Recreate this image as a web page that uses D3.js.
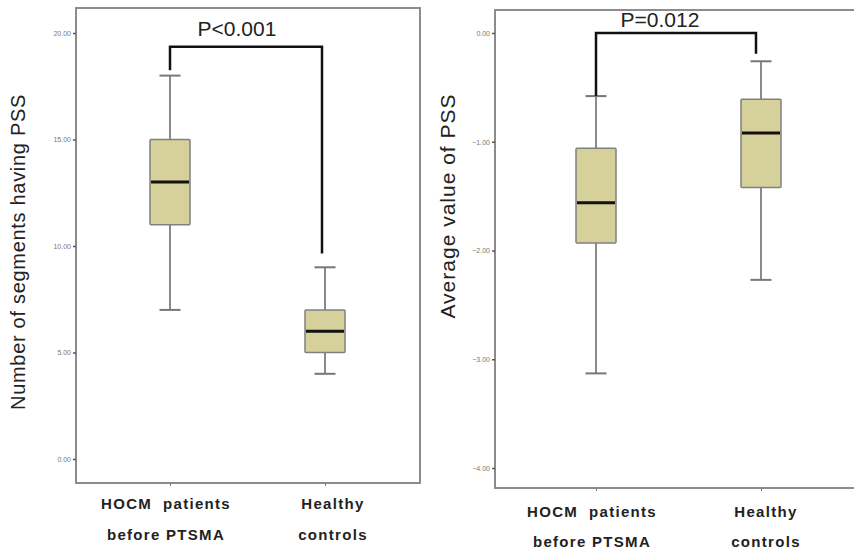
<!DOCTYPE html>
<html>
<head>
<meta charset="utf-8">
<script src="https://cdn.jsdelivr.net/npm/d3@7/dist/d3.min.js"></script>
<style>
  body { margin: 0; background: #fff; }
  svg { display: block; font-family: Arial, "Liberation Sans", sans-serif; }
</style>
</head>
<body>
<svg id="chart" width="854" height="552"></svg>
<script>
// Categories (two lines each)
const groupLabels = [["HOCM  patients", "before PTSMA"], ["Healthy", "controls"]];

// Box stats: [lower whisker, Q1, median, Q3, upper whisker]
const segmentStats = [[7, 11, 13, 15, 18], [4, 5, 6, 7, 9]];
const pssStats = [[-3.13, -1.93, -1.56, -1.06, -0.58], [-2.27, -1.42, -0.92, -0.61, -0.26]];

// Axis ticks
const segmentTicks = [0, 5, 10, 15, 20];
const pssTicks = [0, -1, -2, -3, -4];

// Significance brackets: top level, then bottom of left and right legs
const segmentBracket = { text: "P<0.001", top: 19.35, ends: [18.25, 9.65] };
const pssBracket = { text: "P=0.012", top: 0, ends: [-0.58, -0.19] };

const svg = d3.select("#chart");
const boxFill = "#d6d19b";

function drawPanel(cfg) {
  const g = svg.append("g");
  const y = d3.scaleLinear().domain(cfg.domain).range(cfg.yRange);
  const x = d3.scalePoint().domain([0, 1]).range(cfg.xRange);

  // frame
  g.append("rect")
    .attr("x", cfg.frame[0]).attr("y", cfg.frame[1])
    .attr("width", cfg.frame[2] - cfg.frame[0])
    .attr("height", cfg.frame[3] - cfg.frame[1])
    .attr("fill", "none").attr("stroke", "#8c8c8c").attr("stroke-width", 2);

  // y axis ticks
  const yAxis = d3.axisLeft(y).tickValues(cfg.ticks).tickFormat(d3.format(".2f"))
    .tickSize(3).tickPadding(2);
  const ya = g.append("g").attr("transform", `translate(${cfg.frame[0]},0)`).call(yAxis);
  ya.select(".domain").remove();
  ya.selectAll("line").attr("stroke", "#555").attr("stroke-width", 1.5);
  ya.selectAll("text").attr("font-size", 7).attr("fill", "#777")
    .attr("font-family", "Arial, sans-serif");

  // x category ticks
  const xAxis = d3.axisBottom(x).tickSize(3).tickFormat("");
  const xa = g.append("g").attr("transform", `translate(0,${cfg.frame[3]})`).call(xAxis);
  xa.select(".domain").remove();
  xa.selectAll("line").attr("stroke", "#777");

  // boxes
  const boxW = 40, capW = 21;
  cfg.stats.forEach((s, i) => {
    const cx = x(i);
    const b = g.append("g");
    b.append("line").attr("x1", cx).attr("x2", cx).attr("y1", y(s[4])).attr("y2", y(s[3]))
      .attr("stroke", "#8a8a8a").attr("stroke-width", 2);
    b.append("line").attr("x1", cx).attr("x2", cx).attr("y1", y(s[1])).attr("y2", y(s[0]))
      .attr("stroke", "#8a8a8a").attr("stroke-width", 2);
    [s[0], s[4]].forEach(v => {
      b.append("line").attr("x1", cx - capW / 2).attr("x2", cx + capW / 2)
        .attr("y1", y(v)).attr("y2", y(v))
        .attr("stroke", "#777").attr("stroke-width", 2);
    });
    b.append("rect").attr("x", cx - boxW / 2).attr("y", y(s[3]))
      .attr("width", boxW).attr("height", y(s[1]) - y(s[3]))
      .attr("fill", boxFill).attr("stroke", "#808080").attr("stroke-width", 1.5).attr("rx", 1);
    b.append("line").attr("x1", cx - boxW / 2 + 1).attr("x2", cx + boxW / 2 - 1)
      .attr("y1", y(s[2])).attr("y2", y(s[2]))
      .attr("stroke", "#111").attr("stroke-width", 3);
  });

  // bracket
  const br = cfg.bracket;
  const xl = x(0), xr = x(1) - cfg.rightLegShift;
  g.append("path")
    .attr("d", `M${xl},${y(br.ends[0])}V${y(br.top)}H${xr}V${y(br.ends[1])}`)
    .attr("fill", "none").attr("stroke", "#111").attr("stroke-width", 2.5);
  g.append("text").attr("x", (xl + xr) / 2 + cfg.textShift).attr("y", y(br.top) - cfg.textGap)
    .attr("text-anchor", "middle").attr("font-size", 21).attr("fill", "#222")
    .text(br.text);

  // category labels
  groupLabels.forEach((lines, i) => {
    lines.forEach((t, j) => {
      g.append("text").attr("x", x(i) + cfg.labelShift[i])
        .attr("y", cfg.labelY[j])
        .attr("text-anchor", "middle").attr("font-size", 15).attr("font-weight", "bold")
        .attr("letter-spacing", 1.3).attr("fill", "#222")
        .style("white-space", "pre").text(t);
    });
  });

  // y title
  g.append("text")
    .attr("transform", `translate(${cfg.titleX},${cfg.titleY}) rotate(-90)`)
    .attr("text-anchor", "middle").attr("font-size", cfg.titleSize)
    .attr("letter-spacing", cfg.titleSpacing).attr("fill", "#222")
    .text(cfg.title);
}

drawPanel({
  frame: [76, 8, 420, 483],
  domain: [0, 20], yRange: [459, 33],
  xRange: [170, 325],
  ticks: segmentTicks, stats: segmentStats, bracket: segmentBracket,
  rightLegShift: 3, textShift: -9, textGap: 11,
  labelShift: [-4, 8], labelY: [509, 540],
  title: "Number of segments having PSS", titleX: 25, titleY: 252,
  titleSize: 20, titleSpacing: 0.7
});

drawPanel({
  frame: [495, 10, 858, 488],
  domain: [-4, 0], yRange: [468, 33],
  xRange: [596, 761],
  ticks: pssTicks, stats: pssStats, bracket: pssBracket,
  rightLegShift: 5, textShift: -16, textGap: 6,
  labelShift: [-4, 5], labelY: [517, 547],
  title: "Average value of PSS", titleX: 455, titleY: 206,
  titleSize: 21, titleSpacing: 1
});
</script>
</body>
</html>
